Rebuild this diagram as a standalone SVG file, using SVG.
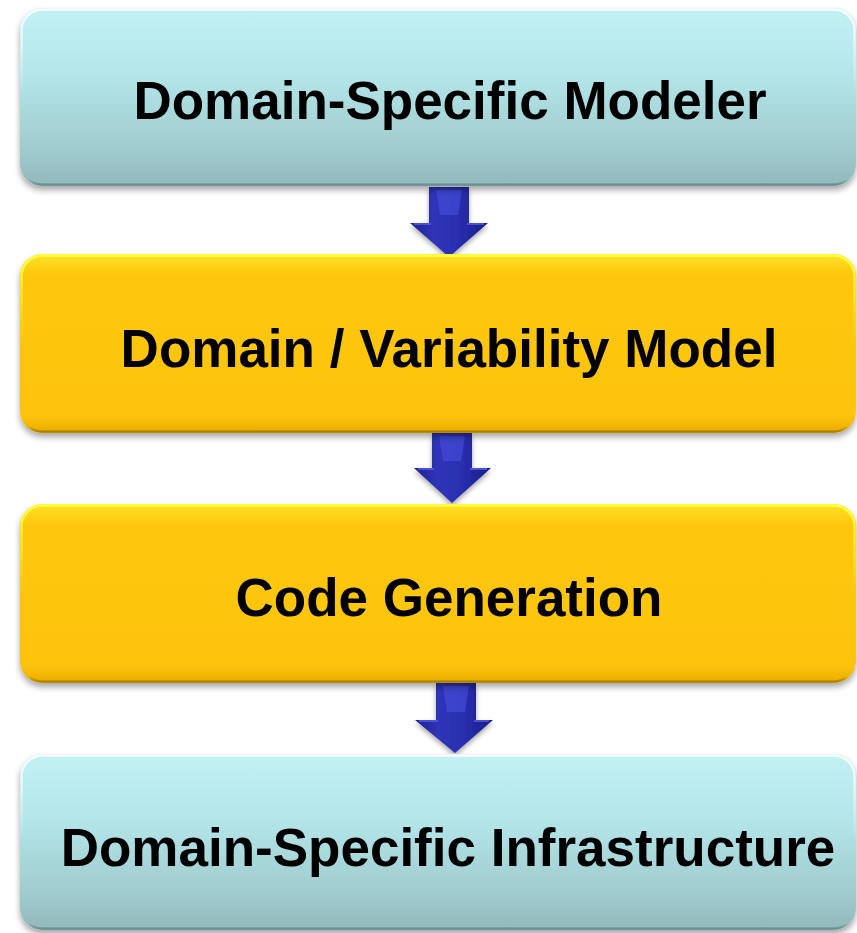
<svg xmlns="http://www.w3.org/2000/svg" width="857" height="933" viewBox="0 0 857 933">
  <defs>
    <linearGradient id="gCyan" x1="0" y1="0" x2="0" y2="1">
      <stop offset="0" stop-color="#c2f1f4"/>
      <stop offset="0.35" stop-color="#b5e7ea"/>
      <stop offset="0.8" stop-color="#9fcbce"/>
      <stop offset="1" stop-color="#92b8ba"/>
    </linearGradient>
    <linearGradient id="gYellow" x1="0" y1="0" x2="0" y2="1">
      <stop offset="0" stop-color="#fde22a"/>
      <stop offset="0.12" stop-color="#fec70a"/>
      <stop offset="0.9" stop-color="#fec408"/>
      <stop offset="1" stop-color="#e8ad04"/>
    </linearGradient>
    <linearGradient id="rimCyan" x1="0" y1="0" x2="0" y2="1">
      <stop offset="0" stop-color="#ffffff" stop-opacity="0.9"/>
      <stop offset="0.5" stop-color="#ffffff" stop-opacity="0"/>
      <stop offset="0.97" stop-color="#5f8587" stop-opacity="0"/>
      <stop offset="1" stop-color="#5f8587" stop-opacity="0.8"/>
    </linearGradient>
    <linearGradient id="rimYellow" x1="0" y1="0" x2="0" y2="1">
      <stop offset="0" stop-color="#ffff40" stop-opacity="1"/>
      <stop offset="0.5" stop-color="#ffff40" stop-opacity="0"/>
      <stop offset="0.97" stop-color="#a87d00" stop-opacity="0"/>
      <stop offset="1" stop-color="#a87d00" stop-opacity="0.9"/>
    </linearGradient>
    <linearGradient id="gArrow" x1="0" y1="0" x2="1" y2="0">
      <stop offset="0" stop-color="#1e2290"/>
      <stop offset="0.3" stop-color="#2f34b8"/>
      <stop offset="0.6" stop-color="#2a2fb0"/>
      <stop offset="1" stop-color="#1a1d85"/>
    </linearGradient>
    <filter id="shadow" x="-5%" y="-10%" width="110%" height="125%">
      <feDropShadow dx="0" dy="4" stdDeviation="3" flood-color="#000000" flood-opacity="0.35"/>
    </filter>
    <filter id="ashadow" x="-30%" y="-20%" width="160%" height="150%">
      <feDropShadow dx="0" dy="3" stdDeviation="2.5" flood-color="#000000" flood-opacity="0.35"/>
    </filter>
  </defs>
  <style>
    .lbl { font-family: "Liberation Sans", Arial, sans-serif; font-weight: bold; font-size: 53px; fill: #000000; text-anchor: middle; }
    .rim { fill: none; stroke-width: 2.5; }
    .facet { fill: none; stroke: #5a62ee; stroke-width: 2; stroke-opacity: 0.7; stroke-linejoin: round; }
  </style>

  <rect width="857" height="933" fill="#ffffff"/>

  <g id="connectors">
    <g filter="url(#ashadow)">
      <path d="M429,187 H469 V223 H488 L449,257 L410,223 H429 Z" fill="url(#gArrow)"/>
      <path d="M432,433 H472 V468 H491 L452,503 L414,468 H432 Z" fill="url(#gArrow)"/>
      <path d="M436,683 H476 V720 H493 L455,753 L415,720 H436 Z" fill="url(#gArrow)"/>
    </g>
    <g fill="#4b52e0" opacity="0.55">
      <path d="M436,190 H462 L458,215 H440 Z"/>
      <path d="M439,436 H465 L461,461 H443 Z"/>
      <path d="M443,686 H469 L465,712 H447 Z"/>
    </g>
    <g class="facet">
      <path d="M414,224 H431 M467,224 H484"/>
      <path d="M418,469 H434 M470,469 H487"/>
      <path d="M419,721 H438 M474,721 H489"/>
    </g>
  </g>

  <g id="node-modeler">
    <rect x="20" y="8" width="836" height="178" rx="22" fill="url(#gCyan)" filter="url(#shadow)"/>
    <rect x="21.5" y="9.5" width="833" height="175" rx="21" class="rim" stroke="url(#rimCyan)"/>
    <text class="lbl" x="450" y="119">Domain-Specific Modeler</text>
  </g>

  <g id="node-model">
    <rect x="20" y="254" width="836" height="179" rx="22" fill="url(#gYellow)" filter="url(#shadow)"/>
    <rect x="21.5" y="255.5" width="833" height="176" rx="21" class="rim" stroke="url(#rimYellow)"/>
    <text class="lbl" x="449" y="367">Domain / Variability Model</text>
  </g>

  <g id="node-codegen">
    <rect x="20" y="504" width="836" height="179" rx="22" fill="url(#gYellow)" filter="url(#shadow)"/>
    <rect x="21.5" y="505.5" width="833" height="176" rx="21" class="rim" stroke="url(#rimYellow)"/>
    <text class="lbl" x="449" y="616">Code Generation</text>
  </g>

  <g id="node-infrastructure">
    <rect x="20" y="754" width="836" height="176" rx="22" fill="url(#gCyan)" filter="url(#shadow)"/>
    <rect x="21.5" y="755.5" width="833" height="173" rx="21" class="rim" stroke="url(#rimCyan)"/>
    <text class="lbl" x="448" y="866">Domain-Specific Infrastructure</text>
  </g>
</svg>
